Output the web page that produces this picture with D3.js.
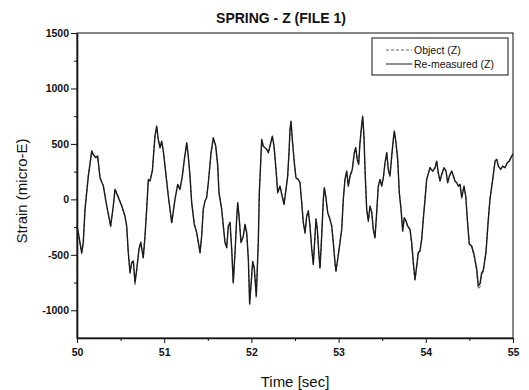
<!DOCTYPE html>
<html>
<head>
<meta charset="utf-8">
<script src="https://cdn.jsdelivr.net/npm/d3@7"></script>
<style>
	body { margin: 0; background: #fff; }
	#chart-area { width: 529px; height: 390px; }
	.axis text { font-family: "Liberation Sans", Arial, sans-serif; font-size: 10.5px; font-weight: bold; fill: #111; }
	.axis path, .axis line { stroke: #111; }
	.chart-title { font-family: "Liberation Sans", Arial, sans-serif; font-size: 14px; font-weight: bold; fill: #111; }
	.axis-title { font-family: "Liberation Sans", Arial, sans-serif; font-size: 15px; fill: #111; }
	.legend-text { font-family: "Liberation Sans", Arial, sans-serif; font-size: 10.5px; fill: #111; }
</style>
</head>
<body>
<div id="chart-area"></div>
<script>

// Time [sec]
let timeSec = [
	50.000,50.015,50.054,50.072,50.092,50.130,50.169,50.187,50.214,50.237,
	50.264,50.302,50.341,50.386,50.416,50.436,50.474,50.513,50.550,50.570,
	50.588,50.608,50.627,50.646,50.665,50.685,50.711,50.731,50.760,50.780,
	50.799,50.818,50.837,50.864,50.894,50.914,50.932,50.952,50.971,50.990,
	51.009,51.047,51.086,51.124,51.155,51.181,51.208,51.231,51.258,51.276,
	51.296,51.315,51.345,51.373,51.411,51.430,51.448,51.468,51.487,51.506,
	51.537,51.563,51.591,51.614,51.628,51.659,51.697,51.717,51.735,51.755,
	51.774,51.792,51.812,51.831,51.843,51.858,51.881,51.907,51.927,51.946,
	51.965,51.980,52.015,52.033,52.056,52.079,52.091,52.118,52.137,52.156,
	52.176,52.194,52.213,52.240,52.259,52.279,52.302,52.328,52.348,52.374,
	52.397,52.416,52.431,52.443,52.454,52.469,52.492,52.511,52.538,52.557,
	52.577,52.595,52.615,52.634,52.653,52.672,52.692,52.710,52.729,52.741,
	52.756,52.775,52.787,52.806,52.825,52.836,52.852,52.875,52.901,52.921,
	52.939,52.959,52.970,52.990,53.016,53.036,53.054,53.073,53.093,53.111,
	53.131,53.157,53.180,53.196,53.214,53.230,53.245,53.265,53.276,53.291,
	53.303,53.322,53.341,53.360,53.380,53.398,53.417,53.437,53.455,53.475,
	53.494,53.513,53.532,53.552,53.570,53.589,53.609,53.627,53.639,53.658,
	53.678,53.696,53.716,53.735,53.753,53.773,53.792,53.819,53.838,53.857,
	53.876,53.896,53.914,53.933,53.953,53.971,53.991,54.010,54.037,54.048,
	54.079,54.106,54.125,54.143,54.163,54.182,54.209,54.232,54.251,54.270,
	54.297,54.316,54.335,54.354,54.373,54.392,54.412,54.438,54.458,54.476,
	54.499,54.526,54.553,54.584,54.602,54.622,54.641,54.659,54.690,54.717,
	54.736,54.767,54.794,54.813,54.832,54.859,54.882,54.908,54.935,54.958,
	54.985,55.000
];

// Object (Z), strain in micro-E
let objectZ = [
	-250,-310,-495,-380,-80,220,440,400,370,385,
	200,125,-50,-250,-70,95,25,-55,-160,-250,
	-470,-670,-580,-560,-770,-640,-440,-380,-530,-320,
	-80,175,170,260,560,650,545,470,515,440,
	310,40,-220,10,130,95,205,355,505,400,
	200,-20,-215,-310,-490,-320,-80,-10,20,145,
	410,545,485,310,70,-80,-380,-440,-250,-200,
	-440,-760,-490,-170,-40,-140,-380,-340,-230,-310,
	-530,-950,-570,-610,-890,-380,70,530,470,460,
	455,430,470,560,490,310,70,110,50,-40,
	95,200,410,620,695,550,340,190,175,155,
	-20,-200,-310,-160,-100,-250,-440,-590,-340,-170,
	-260,-500,-625,-320,10,100,35,-110,-190,-230,
	-380,-580,-660,-530,-380,-260,10,170,250,130,
	200,260,410,470,350,320,500,665,740,560,
	260,-80,-205,-70,-110,-280,-355,-110,110,185,
	125,190,320,430,260,215,380,530,605,500,
	350,70,-80,-290,-175,-190,-250,-275,-400,-585,
	-740,-610,-470,-475,-350,-170,10,170,260,290,
	250,280,350,235,170,220,290,250,155,205,
	250,215,160,155,115,140,20,115,35,-170,
	-400,-430,-510,-650,-810,-790,-680,-655,-470,-170,
	10,170,340,365,295,275,295,290,325,350,
	385,415
];

// Re-measured (Z), strain in micro-E
let remeasuredZ = [
	-240,-300,-480,-390,-90,210,435,405,378,390,
	195,120,-60,-240,-60,90,18,-60,-150,-240,
	-480,-660,-570,-555,-750,-630,-450,-390,-525,-330,
	-90,180,165,255,570,660,540,465,525,435,
	300,30,-210,0,135,90,210,360,510,390,
	210,-30,-225,-300,-480,-330,-90,-15,15,150,
	420,555,480,300,60,-90,-390,-435,-240,-210,
	-450,-750,-480,-180,-30,-150,-390,-330,-225,-300,
	-540,-940,-560,-620,-870,-390,60,540,480,465,
	450,420,480,570,480,300,60,120,45,-45,
	90,210,420,630,705,540,330,195,180,150,
	-30,-210,-300,-150,-105,-240,-450,-585,-330,-180,
	-270,-510,-615,-330,0,105,30,-120,-180,-240,
	-390,-570,-645,-540,-390,-270,0,180,255,120,
	210,270,420,465,360,315,510,675,750,570,
	270,-90,-195,-60,-120,-270,-345,-120,120,180,
	120,195,330,420,270,210,390,540,615,510,
	360,60,-90,-285,-165,-195,-240,-270,-390,-570,
	-720,-600,-480,-465,-360,-180,0,180,255,285,
	255,285,345,240,165,225,285,255,150,210,
	255,210,165,150,120,135,15,120,30,-180,
	-405,-420,-495,-630,-780,-760,-660,-640,-480,-180,
	0,180,345,360,300,270,300,285,330,345,
	390,410
];

let xTicks = [50, 51, 52, 53, 54, 55];
let xMinorTicks = [50.5, 51.5, 52.5, 53.5, 54.5];
let yTicks = [-1000, -500, 0, 500, 1000, 1500];
let yMinorTicks = [-750, -250, 250, 750, 1250];
let seriesNames = ["Object (Z)", "Re-measured (Z)"];


/*
 * LineChart - strain vs time with two overlaid series
 */

class LineChart {

	constructor(parentElement, config) {
		this.parentElement = parentElement;
		this.config = config;

		this.initVis();
	}

	initVis() {
		let vis = this;

		vis.margin = {top: 33, right: 16, bottom: 52, left: 77};

		vis.width = 529 - vis.margin.left - vis.margin.right;
		vis.height = 390 - vis.margin.top - vis.margin.bottom;

		vis.svgRoot = d3.select("#" + vis.parentElement).append("svg")
			.attr("width", 529)
			.attr("height", 390);

		vis.svg = vis.svgRoot.append("g")
			.attr("transform", "translate(" + vis.margin.left + "," + vis.margin.top + ")");

		// Scales
		vis.x = d3.scaleLinear()
			.domain([50, 55])
			.range([0, vis.width]);

		vis.y = d3.scaleLinear()
			.domain([-1250, 1500])
			.range([vis.height, 0]);

		// Frame (top + right edges)
		vis.svg.append("rect")
			.attr("x", 0)
			.attr("y", 0)
			.attr("width", vis.width)
			.attr("height", vis.height)
			.attr("fill", "none")
			.attr("stroke", "#111")
			.attr("stroke-width", 1);

		// Minor ticks
		vis.svg.append("g")
			.attr("class", "axis minor")
			.attr("transform", "translate(0," + vis.height + ")")
			.call(d3.axisBottom(vis.x).tickValues(xMinorTicks).tickSize(3).tickFormat(""))
			.call(g => g.select(".domain").remove());

		vis.svg.append("g")
			.attr("class", "axis minor")
			.call(d3.axisLeft(vis.y).tickValues(yMinorTicks).tickSize(3).tickFormat(""))
			.call(g => g.select(".domain").remove());

		// Major axes
		vis.xAxis = d3.axisBottom(vis.x)
			.tickValues(xTicks)
			.tickSize(5)
			.tickSizeOuter(0)
			.tickPadding(6)
			.tickFormat(d => String(d));

		vis.yAxis = d3.axisLeft(vis.y)
			.tickValues(yTicks)
			.tickSize(6)
			.tickSizeOuter(0)
			.tickPadding(2)
			.tickFormat(d => String(d));

		vis.svg.append("g")
			.attr("class", "x-axis axis")
			.attr("transform", "translate(0," + vis.height + ")")
			.call(vis.xAxis)
			.call(g => g.select(".domain").attr("stroke-width", 1.6));

		vis.svg.append("g")
			.attr("class", "y-axis axis")
			.call(vis.yAxis)
			.call(g => g.select(".domain").attr("stroke-width", 1.6));

		// Titles
		vis.svgRoot.append("text")
			.attr("class", "chart-title")
			.attr("x", 281)
			.attr("y", 23)
			.attr("text-anchor", "middle")
			.text(vis.config.title);

		vis.svgRoot.append("text")
			.attr("class", "axis-title")
			.attr("x", vis.margin.left + vis.width / 2)
			.attr("y", 387)
			.attr("text-anchor", "middle")
			.text(vis.config.xLabel);

		vis.svgRoot.append("text")
			.attr("class", "axis-title")
			.attr("transform", "translate(27,191) rotate(-90)")
			.attr("text-anchor", "middle")
			.text(vis.config.yLabel);

		vis.line = d3.line()
			.x(d => vis.x(d.t))
			.y(d => vis.y(d.v));

		vis.wrangleData();
	}

	wrangleData() {
		let vis = this;

		vis.displayData = [
			{name: seriesNames[0], dash: "3,2", color: "#666", width: 1, values: timeSec.map((t, i) => ({t: t, v: objectZ[i]}))},
			{name: seriesNames[1], dash: null, color: "#1a1a1a", width: 1.4, values: timeSec.map((t, i) => ({t: t, v: remeasuredZ[i]}))}
		];

		vis.updateVis();
	}

	updateVis() {
		let vis = this;

		vis.svg.selectAll(".series")
			.data(vis.displayData)
			.enter().append("path")
			.attr("class", "series")
			.attr("fill", "none")
			.attr("stroke", d => d.color)
			.attr("stroke-width", d => d.width)
			.attr("stroke-dasharray", d => d.dash)
			.attr("stroke-linejoin", "round")
			.attr("d", d => vis.line(d.values));

		// Legend
		let legend = vis.svgRoot.append("g")
			.attr("transform", "translate(372,38)");

		legend.append("rect")
			.attr("width", 136)
			.attr("height", 37)
			.attr("fill", "#fff")
			.attr("stroke", "#111")
			.attr("stroke-width", 1);

		let items = legend.selectAll(".legend-item")
			.data(vis.displayData)
			.enter().append("g")
			.attr("class", "legend-item")
			.attr("transform", (d, i) => "translate(0," + (12 + i * 14) + ")");

		items.append("line")
			.attr("x1", 14)
			.attr("x2", 40)
			.attr("stroke", d => d.color)
			.attr("stroke-width", 1)
			.attr("stroke-dasharray", d => d.dash);

		items.append("text")
			.attr("class", "legend-text")
			.attr("x", 42)
			.attr("dy", "0.35em")
			.text(d => d.name);
	}
}

new LineChart("chart-area", {
	title: "SPRING - Z (FILE 1)",
	xLabel: "Time [sec]",
	yLabel: "Strain (micro-E)"
});

</script>
</body>
</html>
